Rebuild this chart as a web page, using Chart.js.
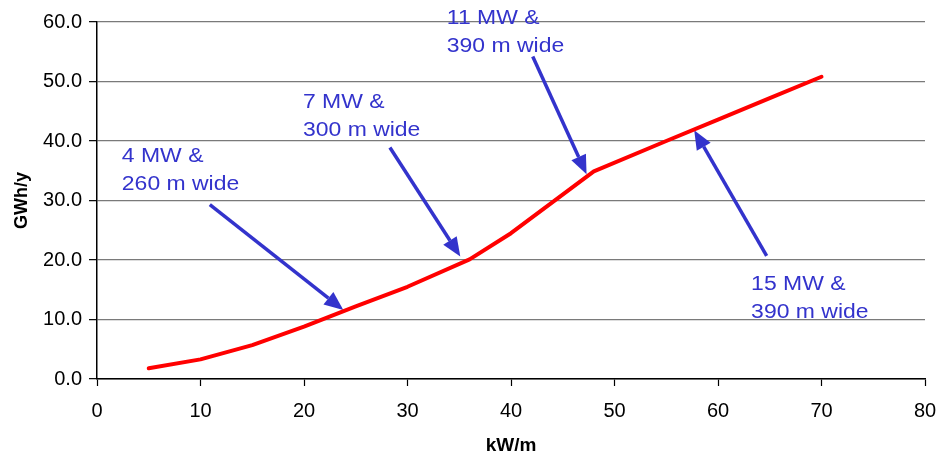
<!DOCTYPE html>
<html>
<head>
<meta charset="utf-8">
<script src="https://cdn.jsdelivr.net/npm/chart.js@4/dist/chart.umd.min.js"></script>
<style>
  html, body { margin: 0; padding: 0; background: #ffffff; }
  #c { display: block; }
</style>
</head>
<body>
<canvas id="c" width="941" height="457"></canvas>
<script>
// Wave power level (kW/m) against annual energy yield (GWh/y)
const powerLevel = [5, 10, 15, 20, 25, 30, 36, 40, 48, 55, 60, 65, 70];
const annualYield = [1.8, 3.3, 5.7, 8.8, 12.2, 15.5, 20.1, 24.5, 34.9, 40.0, 43.6, 47.2, 50.8];

const xTickValues = [0, 10, 20, 30, 40, 50, 60, 70, 80];
const yTickValues = [0, 10, 20, 30, 40, 50, 60];

// Callout texts, each with its arrow, placed in data units
const noteText = [
  ["4 MW &", "260 m wide"],
  ["7 MW &", "300 m wide"],
  ["11 MW &", "390 m wide"],
  ["15 MW &", "390 m wide"]
];
const noteAt = [[2.4, 36.5], [19.9, 45.6], [33.8, 59.6], [63.2, 15.0]];
const arrowFrom = [[10.9, 29.3], [28.3, 38.9], [42.1, 54.2], [64.7, 20.7]];
const arrowTo = [[23.8, 11.6], [35.1, 20.6], [47.3, 34.4], [57.7, 41.8]];

const FONT = "'Liberation Sans', Arial, sans-serif";
const BLUE = '#3333cc';

const calloutPlugin = {
  id: 'callouts',
  beforeDatasetsDraw(chart) {
    const { ctx, scales: { x, y } } = chart;
    ctx.save();
    ctx.strokeStyle = BLUE;
    ctx.fillStyle = BLUE;
    ctx.lineWidth = 3.5;
    arrowFrom.forEach((from, i) => {
      const x0 = x.getPixelForValue(from[0]);
      const y0 = y.getPixelForValue(from[1]);
      const x1 = x.getPixelForValue(arrowTo[i][0]);
      const y1 = y.getPixelForValue(arrowTo[i][1]);
      const ang = Math.atan2(y1 - y0, x1 - x0);
      const headLen = 19, headHalf = 8;
      const bx = x1 - headLen * Math.cos(ang);
      const by = y1 - headLen * Math.sin(ang);
      ctx.beginPath();
      ctx.moveTo(x0, y0);
      ctx.lineTo(bx, by);
      ctx.stroke();
      ctx.beginPath();
      ctx.moveTo(x1, y1);
      ctx.lineTo(bx + headHalf * Math.sin(ang), by - headHalf * Math.cos(ang));
      ctx.lineTo(bx - headHalf * Math.sin(ang), by + headHalf * Math.cos(ang));
      ctx.closePath();
      ctx.fill();
    });
    ctx.restore();
  },
  afterDraw(chart) {
    const { ctx, scales: { x, y } } = chart;
    ctx.save();
    ctx.fillStyle = BLUE;
    ctx.font = '20.5px ' + FONT;
    ctx.textAlign = 'left';
    ctx.textBaseline = 'alphabetic';
    const stretch = 1.12; // slightly widened lettering
    noteText.forEach((lines, i) => {
      const px = x.getPixelForValue(noteAt[i][0]);
      const py = y.getPixelForValue(noteAt[i][1]);
      lines.forEach((t, k) => {
        ctx.save();
        ctx.translate(px, py + k * 28);
        ctx.scale(stretch, 1);
        ctx.fillText(t, 0, 0);
        ctx.restore();
      });
    });
    ctx.restore();
  }
};

new Chart(document.getElementById('c'), {
  type: 'line',
  data: {
    datasets: [{
      data: powerLevel.map((v, i) => ({ x: v, y: annualYield[i] })),
      borderColor: '#ff0000',
      borderWidth: 4,
      borderCapStyle: 'round',
      borderJoinStyle: 'round',
      pointRadius: 0,
      tension: 0,
      fill: false
    }]
  },
  options: {
    responsive: false,
    animation: false,
    devicePixelRatio: 1,
    layout: { padding: { left: 0, right: 16, top: 22, bottom: 0 } },
    plugins: { legend: { display: false }, tooltip: { enabled: false } },
    scales: {
      x: {
        type: 'linear',
        min: 0,
        max: 80,
        afterBuildTicks(scale) { scale.ticks = xTickValues.map(v => ({ value: v })); },
        afterFit(scale) { scale.height = 78; scale.paddingLeft = 0; scale.paddingRight = 0; },
        border: { display: true, color: '#000000', width: 1.5 },
        grid: { drawOnChartArea: false, drawTicks: true, tickLength: 7, tickColor: '#000000', tickWidth: 1.2 },
        ticks: { color: '#000000', font: { family: FONT, size: 20 }, padding: 13, maxRotation: 0 },
        title: { display: true, text: 'kW/m', color: '#000000', font: { family: FONT, size: 19, weight: 'bold' }, padding: { top: 4, bottom: 0 } }
      },
      y: {
        type: 'linear',
        min: 0,
        max: 60,
        afterBuildTicks(scale) { scale.ticks = yTickValues.map(v => ({ value: v })); },
        afterFit(scale) { scale.width = 97; scale.paddingTop = 0; scale.paddingBottom = 0; },
        border: { display: true, color: '#000000', width: 1.5 },
        grid: { color: '#7a7a7a', lineWidth: 1.3, drawTicks: true, tickLength: 8, tickColor: '#000000', tickWidth: 1.2 },
        ticks: { color: '#000000', font: { family: FONT, size: 20 }, padding: 7, callback: v => Number(v).toFixed(1) },
        title: { display: true, text: 'GWh/y', color: '#000000', font: { family: FONT, size: 18, weight: 'bold' }, padding: { top: 11, bottom: 4 } }
      }
    }
  },
  plugins: [calloutPlugin]
});
</script>
</body>
</html>
